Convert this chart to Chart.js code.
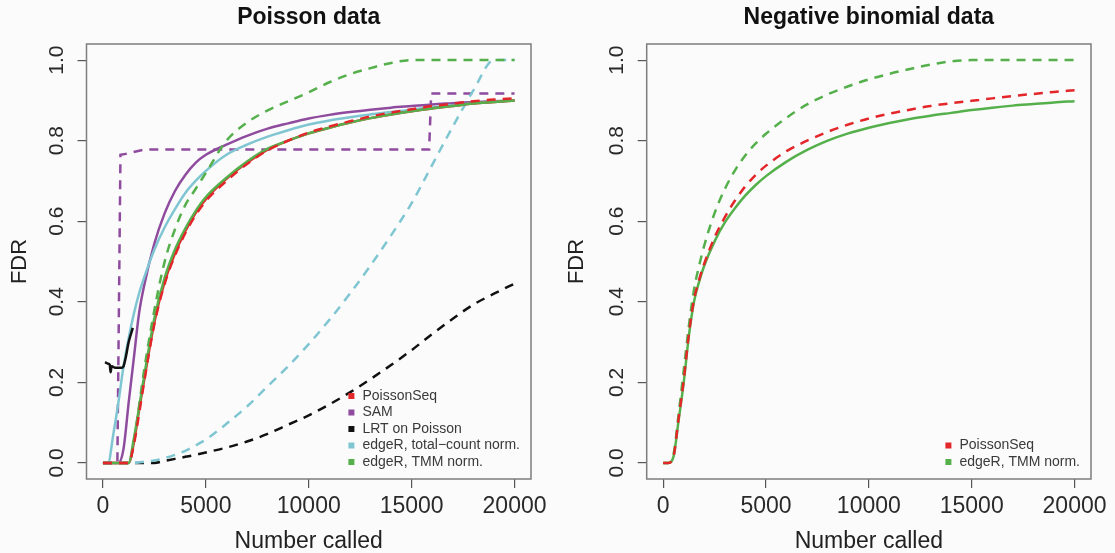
<!DOCTYPE html>
<html>
<head>
<meta charset="utf-8">
<script src="https://cdn.jsdelivr.net/npm/chart.js@4"></script>
<style>
    body { margin: 0; background: #fbfbfb; }
    #wrap { display: flex; width: 1115px; height: 553px; }
    canvas { display: block; }
</style>
</head>
<body>
<div id="wrap">
    <canvas id="poisChart" width="557" height="553"></canvas>
    <canvas id="nbChart" width="558" height="553"></canvas>
</div>
<script>
const xTicks = [0, 5000, 10000, 15000, 20000];
const yTicks = [0, 0.2, 0.4, 0.6, 0.8, 1.0];

const methodNames = ['PoissonSeq', 'SAM', 'LRT on Poisson', 'edgeR, total\u2212count norm.', 'edgeR, TMM norm.'];

// number called, shared by most curves
const xGrid = [0, 250, 500, 750, 1000, 1250, 1500, 1750, 2000, 2500, 3000, 3500, 4000, 4500, 5000,
    6000, 7000, 8000, 9000, 10000, 11000, 12000, 13000, 14000, 15000, 16000, 17000, 18000, 19000, 20000];

// Poisson data: solid = true FDR, dashed = estimated FDR
const poisSeqTrue = [0, 0, 0, 0, 0, 0, 0.05, 0.13, 0.205, 0.35, 0.45, 0.52, 0.575, 0.62, 0.655,
    0.705, 0.745, 0.778, 0.80, 0.818, 0.832, 0.845, 0.856, 0.865, 0.873, 0.880, 0.886, 0.892, 0.896, 0.90];
const poisSeqEst = [0, 0, 0, 0, 0, 0, 0.045, 0.12, 0.2, 0.345, 0.445, 0.515, 0.57, 0.615, 0.65,
    0.70, 0.742, 0.776, 0.80, 0.82, 0.835, 0.848, 0.86, 0.87, 0.878, 0.886, 0.892, 0.898, 0.902, 0.905];
const poisTmmTrue = [0, 0, 0, 0, 0, 0, 0.06, 0.135, 0.215, 0.36, 0.46, 0.53, 0.582, 0.625, 0.66,
    0.708, 0.748, 0.78, 0.80, 0.818, 0.832, 0.845, 0.856, 0.865, 0.873, 0.880, 0.886, 0.892, 0.896, 0.90];
const poisTmmEst = [0, 0, 0, 0, 0, 0, 0.05, 0.14, 0.23, 0.38, 0.50, 0.58, 0.64, 0.68, 0.72,
    0.80, 0.845, 0.875, 0.898, 0.92, 0.945, 0.965, 0.98, 0.993, 1.0, 1.0, 1.0, 1.0, 1.0, 1.0];
const poisSamTrue = [0, 0, 0, 0, 0.035, 0.15, 0.26, 0.37, 0.44, 0.545, 0.62, 0.675, 0.715, 0.745, 0.765,
    0.79, 0.812, 0.83, 0.843, 0.855, 0.864, 0.871, 0.877, 0.882, 0.886, 0.89, 0.893, 0.896, 0.898, 0.90];
const poisTotalTrue = [0, 0, 0.07, 0.15, 0.24, 0.31, 0.37, 0.42, 0.46, 0.53, 0.585, 0.63, 0.67, 0.70, 0.725,
    0.765, 0.79, 0.81, 0.826, 0.84, 0.85, 0.858, 0.865, 0.871, 0.877, 0.883, 0.888, 0.893, 0.897, 0.90];
const poisTotalEst = [0, 0, 0, 0, 0, 0, 0, 0.001, 0.003, 0.006, 0.012, 0.02, 0.03, 0.043, 0.058,
    0.097, 0.14, 0.19, 0.24, 0.295, 0.355, 0.42, 0.49, 0.565, 0.645, 0.74, 0.835, 0.925, 1.0, 1.0];
const poisLrtEst = [0, 0, 0, 0, 0, 0, 0, 0, 0, 0, 0.005, 0.01, 0.015, 0.02, 0.026,
    0.038, 0.053, 0.072, 0.095, 0.118, 0.145, 0.175, 0.208, 0.243, 0.28, 0.32, 0.358, 0.393, 0.42, 0.445];

const lrtTrueX = [100, 250, 330, 370, 420, 600, 900, 1000, 1100, 1250, 1450];
const poisLrtTrue = [0.25, 0.246, 0.244, 0.225, 0.24, 0.236, 0.236, 0.24, 0.26, 0.30, 0.335];

const samEstX = [0, 700, 850, 1000, 2000, 15850, 15950, 20000];
const poisSamEst = [0, 0, 0.765, 0.766, 0.778, 0.778, 0.917, 0.917];

// Negative binomial data
const nbSeqEst = [0, 0, 0.015, 0.11, 0.205, 0.32, 0.405, 0.455, 0.495, 0.56, 0.61, 0.652, 0.687, 0.715, 0.738,
    0.774, 0.80, 0.822, 0.84, 0.855, 0.867, 0.877, 0.886, 0.893, 0.899, 0.905, 0.911, 0.916, 0.921, 0.925];
const nbTmmTrue = [0, 0, 0.015, 0.105, 0.2, 0.315, 0.40, 0.45, 0.49, 0.55, 0.597, 0.633, 0.664, 0.69, 0.712,
    0.748, 0.777, 0.80, 0.818, 0.832, 0.844, 0.854, 0.862, 0.869, 0.876, 0.882, 0.887, 0.891, 0.895, 0.898];
const nbTmmEst = [0, 0, 0.02, 0.12, 0.23, 0.34, 0.43, 0.49, 0.54, 0.62, 0.68, 0.727, 0.764, 0.793, 0.817,
    0.857, 0.89, 0.915, 0.935, 0.952, 0.966, 0.978, 0.989, 0.997, 1.0, 1.0, 1.0, 1.0, 1.0, 1.0];

const colors = {
    seq: '#e3262a',
    sam: '#8f4c9f',
    lrt: '#111111',
    total: '#7fc6d2',
    tmm: '#55b04c'
};

const fontFamily = '"Liberation Sans", Arial, Helvetica, sans-serif';

const toPoints = (xs, ys) => xs.map((x, i) => ({ x: x, y: ys[i] }));

const makeSet = (label, xs, ys, color, dashed, straight) => ({
    label: label,
    data: toPoints(xs, ys),
    borderColor: color,
    borderWidth: 2.5,
    borderDash: dashed ? [9, 7] : [],
    pointRadius: 0,
    fill: false,
    cubicInterpolationMode: straight ? 'default' : 'monotone',
    tension: 0
});

const plotFrame = {
    id: 'plotFrame',
    afterDraw(chart) {
        const a = chart.chartArea;
        const ctx = chart.ctx;
        ctx.save();
        ctx.strokeStyle = '#7d7d7d';
        ctx.lineWidth = 1.5;
        ctx.strokeRect(a.left, a.top, a.right - a.left, a.bottom - a.top);
        ctx.restore();
    }
};

const panelTitle = {
    id: 'panelTitle',
    afterDraw(chart, args, opts) {
        const a = chart.chartArea;
        const ctx = chart.ctx;
        ctx.save();
        ctx.font = 'bold 23px ' + fontFamily;
        ctx.fillStyle = '#111';
        ctx.textAlign = 'center';
        ctx.textBaseline = 'middle';
        ctx.fillText(opts.text, (a.left + a.right) / 2, 18);
        ctx.restore();
    }
};

const boxLegend = {
    id: 'boxLegend',
    afterDraw(chart, args, opts) {
        const a = chart.chartArea;
        const ctx = chart.ctx;
        ctx.save();
        ctx.font = '14px ' + fontFamily;
        const widest = Math.max(...opts.items.map(it => ctx.measureText(it.label).width));
        const textX = a.right - 11 - widest;
        ctx.textBaseline = 'middle';
        opts.items.forEach((it, i) => {
            const y = a.bottom - 17 - (opts.items.length - 1 - i) * 16.5;
            ctx.fillStyle = it.color;
            ctx.fillRect(textX - 14, y - 3, 6, 6);
            ctx.fillStyle = '#3a3a3a';
            ctx.fillText(it.label, textX, y);
        });
        ctx.restore();
    }
};

const makeConfig = (datasets, title, legendItems, yWidth, padRight) => ({
    type: 'line',
    data: { datasets: datasets },
    options: {
        responsive: false,
        animation: false,
        events: [],
        layout: { padding: { top: 44, right: padRight, left: 0, bottom: 0 } },
        plugins: {
            legend: { display: false },
            tooltip: { enabled: false },
            panelTitle: { text: title },
            boxLegend: { items: legendItems }
        },
        scales: {
            x: {
                type: 'linear',
                min: -800,
                max: 20800,
                afterBuildTicks: axis => { axis.ticks = xTicks.map(v => ({ value: v })); },
                afterFit: axis => { axis.height = 74; },
                border: { display: false },
                grid: { drawOnChartArea: false, drawTicks: true, tickLength: 9, color: '#555', lineWidth: 1.2 },
                ticks: {
                    font: { size: 23, family: fontFamily },
                    color: '#2a2a2a',
                    padding: 5,
                    maxRotation: 0,
                    autoSkip: false,
                    callback: v => String(v)
                },
                title: {
                    display: true,
                    text: 'Number called',
                    color: '#222',
                    font: { size: 23, family: fontFamily, lineHeight: 1 },
                    padding: { top: 0, bottom: 0 }
                }
            },
            y: {
                type: 'linear',
                min: -0.04,
                max: 1.04,
                afterBuildTicks: axis => { axis.ticks = yTicks.map(v => ({ value: v })); },
                afterFit: axis => { axis.width = yWidth; },
                border: { display: false },
                grid: { drawOnChartArea: false, drawTicks: true, tickLength: 9, color: '#555', lineWidth: 1.2 },
                ticks: {
                    font: { size: 21, family: fontFamily },
                    color: '#2a2a2a',
                    padding: 6,
                    minRotation: 90,
                    maxRotation: 90,
                    crossAlign: 'center',
                    autoSkip: false,
                    callback: v => v.toFixed(1)
                },
                title: {
                    display: true,
                    text: 'FDR',
                    color: '#222',
                    font: { size: 22, family: fontFamily, lineHeight: 1 },
                    padding: { top: 9, bottom: 0 }
                }
            }
        }
    },
    plugins: [plotFrame, panelTitle, boxLegend]
});

// first dataset is drawn on top
const poisSets = [
    makeSet('PoissonSeq est', xGrid, poisSeqEst, colors.seq, true),
    makeSet('edgeR TMM true', xGrid, poisTmmTrue, colors.tmm, false),
    makeSet('PoissonSeq true', xGrid, poisSeqTrue, colors.seq, false),
    makeSet('edgeR TMM est', xGrid, poisTmmEst, colors.tmm, true),
    makeSet('LRT true', lrtTrueX, poisLrtTrue, colors.lrt, false),
    makeSet('edgeR total true', xGrid, poisTotalTrue, colors.total, false),
    makeSet('SAM true', xGrid, poisSamTrue, colors.sam, false),
    makeSet('edgeR total est', xGrid, poisTotalEst, colors.total, true),
    makeSet('LRT est', xGrid, poisLrtEst, colors.lrt, true),
    makeSet('SAM est', samEstX, poisSamEst, colors.sam, true, true)
];

const nbSets = [
    makeSet('PoissonSeq est', xGrid, nbSeqEst, colors.seq, true),
    makeSet('edgeR TMM true', xGrid, nbTmmTrue, colors.tmm, false),
    makeSet('edgeR TMM est', xGrid, nbTmmEst, colors.tmm, true)
];

const poisLegend = [
    { label: methodNames[0], color: colors.seq },
    { label: methodNames[1], color: colors.sam },
    { label: methodNames[2], color: colors.lrt },
    { label: methodNames[3], color: colors.total },
    { label: methodNames[4], color: colors.tmm }
];
const nbLegend = [
    { label: methodNames[0], color: colors.seq },
    { label: methodNames[4], color: colors.tmm }
];

new Chart(document.getElementById('poisChart'), makeConfig(poisSets, 'Poisson data', poisLegend, 86.5, 26));
new Chart(document.getElementById('nbChart'), makeConfig(nbSets, 'Negative binomial data', nbLegend, 89.7, 24));
</script>
</body>
</html>
